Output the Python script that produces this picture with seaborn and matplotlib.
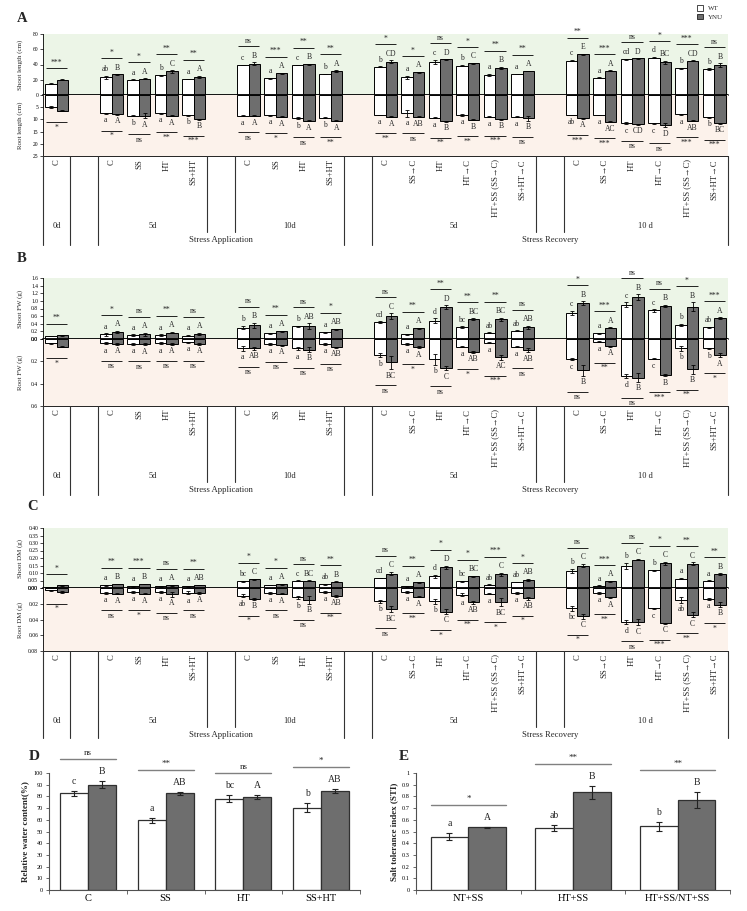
import numpy as np
import pandas as pd
import matplotlib
matplotlib.use("Agg")
import matplotlib.pyplot as plt
import seaborn as sns
from matplotlib.transforms import offset_copy
from matplotlib.patches import Patch
from matplotlib.ticker import FormatStrFormatter, FuncFormatter

sns.set_theme(style="white")
plt.rcParams["font.family"] = ["Liberation Serif", "DejaVu Serif"]

# ---------------- categories ----------------
groups = ["0d", "5d", "10d", "R5d", "R10d"]
group_cats = [
    ["C"],
    ["C", "SS", "HT", "SS+HT"],
    ["C", "SS", "HT", "SS+HT"],
    ["C", "SS→C", "HT", "HT→C", "HT+SS (SS→C)", "SS+HT→C"],
    ["C", "SS→C", "HT", "HT→C", "HT+SS (SS→C)", "SS+HT→C"],
]
day_labels = ["0d", "5d", "10d", "5d", "10 d"]
stage_labels = ["Stress Application", "Stress Recovery"]

# ---------------- Panel A: length (cm) ----------------
A_shoot_wt = [15, 23, 20, 26, 21, 39.5, 22, 39.5, 27.5, 37, 23, 43.7, 38.4, 26.2, 27.5, 45, 22.7, 47, 48.9, 35, 34]
A_shoot_ynu = [20, 27, 21.5, 31, 24, 41, 28.5, 40.5, 31.5, 43.6, 29.7, 46.7, 41.5, 35.8, 31.4, 53.3, 31.9, 48, 42.8, 45, 38.9]
A_shoot_wt_err = [0.5, 2, 0.5, 0.5, 0.5, 0.5, 0.5, 0.5, 0.5, 0.8, 2, 2.5, 1, 1.5, 0.5, 1, 0.5, 0.5, 1, 1, 1]
A_shoot_ynu_err = [0.5, 0.5, 0.5, 1.5, 1.5, 2, 0.5, 0.5, 1, 2, 0.5, 0.5, 0.5, 1.5, 0.5, 0.8, 0.5, 0.5, 2, 0.8, 2.5]
A_root_wt = [5, 7.5, 8.5, 7.5, 8.3, 8.5, 8.3, 9.5, 9.3, 8.2, 7.5, 9.3, 8.2, 8.9, 8.9, 8.2, 8.2, 11.6, 11.6, 7.9, 9.2]
A_root_ynu = [6.5, 7.8, 8.5, 8.5, 10, 8.5, 9, 10.5, 10.5, 8.9, 8.9, 10.7, 10.2, 10, 9.6, 9.6, 10.9, 11.9, 12.3, 10.5, 11.6]
A_root_wt_err = [0.3, 0.2, 0.2, 0.2, 0.2, 0.2, 0.2, 0.5, 0.2, 0.2, 1.4, 0.2, 0.3, 0.3, 0.3, 0.2, 0.2, 0.4, 0.3, 0.3, 0.2]
A_root_ynu_err = [0.2, 0.2, 1, 0.2, 0.2, 0.2, 0.2, 0.3, 0.2, 0.2, 0.2, 0.2, 0.2, 0.2, 1, 0.2, 0.2, 0.2, 1, 0.2, 0.2]
A_shoot_let_wt = ["", "ab", "a", "b", "a", "c", "a", "c", "b", "b", "a", "c", "b", "a", "a", "c", "a", "cd", "d", "b", "b"]
A_shoot_let_ynu = ["", "B", "A", "C", "A", "B", "A", "B", "A", "CD", "A", "D", "C", "B", "A", "E", "A", "D", "BC", "CD", "B"]
A_shoot_sig = ["***", "*", "*", "**", "**", "ns", "***", "**", "**", "*", "*", "ns", "*", "**", "**", "**", "***", "ns", "*", "***", "ns"]
A_root_let_wt = ["", "a", "b", "a", "b", "a", "a", "b", "b", "a", "a", "a", "a", "a", "a", "ab", "a", "c", "c", "a", "b"]
A_root_let_ynu = ["", "A", "A", "A", "B", "A", "A", "A", "A", "A", "AB", "B", "B", "B", "B", "A", "AC", "CD", "D", "AB", "BC"]
A_root_sig = ["*", "*", "ns", "**", "***", "ns", "*", "ns", "**", "**", "ns", "**", "**", "***", "ns", "***", "***", "ns", "ns", "***", "***"]

# ---------------- Panel B: fresh weight (g) ----------------
B_shoot_wt = [0.08, 0.12, 0.10, 0.10, 0.09, 0.30, 0.15, 0.33, 0.18, 0.44, 0.12, 0.48, 0.31, 0.17, 0.22, 0.68, 0.15, 0.90, 0.75, 0.37, 0.31]
B_shoot_ynu = [0.10, 0.18, 0.12, 0.17, 0.13, 0.36, 0.20, 0.33, 0.25, 0.60, 0.28, 0.84, 0.52, 0.52, 0.31, 0.94, 0.30, 1.09, 0.87, 0.85, 0.55]
B_shoot_wt_err = [0.01, 0.03, 0.02, 0.02, 0.02, 0.05, 0.01, 0.02, 0.01, 0.02, 0.02, 0.06, 0.03, 0.01, 0.01, 0.06, 0.01, 0.07, 0.03, 0.03, 0.01]
B_shoot_ynu_err = [0.01, 0.03, 0.05, 0.02, 0.03, 0.06, 0.02, 0.08, 0.02, 0.08, 0.02, 0.04, 0.02, 0.04, 0.04, 0.05, 0.01, 0.08, 0.03, 0.12, 0.02]
B_root_wt = [0.04, 0.035, 0.045, 0.035, 0.03, 0.085, 0.045, 0.085, 0.045, 0.145, 0.045, 0.18, 0.07, 0.035, 0.07, 0.18, 0.025, 0.33, 0.175, 0.085, 0.085]
B_root_ynu = [0.07, 0.045, 0.045, 0.045, 0.045, 0.085, 0.055, 0.095, 0.075, 0.21, 0.075, 0.26, 0.115, 0.165, 0.10, 0.28, 0.065, 0.345, 0.325, 0.27, 0.145]
B_root_wt_err = [0.005, 0.01, 0.005, 0.01, 0.005, 0.02, 0.005, 0.015, 0.005, 0.02, 0.005, 0.05, 0.005, 0.005, 0.005, 0.01, 0.005, 0.02, 0.005, 0.02, 0.005]
B_root_ynu_err = [0.005, 0.005, 0.01, 0.005, 0.005, 0.01, 0.005, 0.02, 0.005, 0.06, 0.01, 0.02, 0.01, 0.02, 0.02, 0.05, 0.005, 0.04, 0.01, 0.04, 0.02]
B_shoot_let_wt = ["", "a", "a", "a", "a", "b", "a", "b", "a", "cd", "a", "d", "bc", "ab", "ab", "c", "a", "c", "c", "b", "ab"]
B_shoot_let_ynu = ["", "A", "A", "A", "A", "B", "A", "AB", "AB", "C", "A", "D", "BC", "BC", "AB", "B", "A", "B", "B", "B", "A"]
B_shoot_sig = ["**", "*", "ns", "**", "ns", "ns", "**", "ns", "*", "ns", "**", "**", "**", "**", "ns", "*", "***", "ns", "ns", "*", "***"]
B_root_let_wt = ["", "a", "a", "a", "a", "a", "a", "a", "a", "b", "a", "b", "a", "a", "a", "c", "a", "d", "c", "b", "b"]
B_root_let_ynu = ["", "A", "A", "A", "A", "AB", "A", "B", "AB", "BC", "A", "C", "AB", "AC", "AB", "B", "A", "B", "B", "B", "A"]
B_root_sig = ["*", "ns", "ns", "ns", "ns", "ns", "ns", "ns", "ns", "ns", "*", "ns", "*", "***", "ns", "ns", "**", "ns", "***", "**", "*"]

# ---------------- Panel C: dry matter (g) ----------------
C_shoot_wt = [0.005, 0.018, 0.013, 0.012, 0.012, 0.045, 0.020, 0.050, 0.025, 0.067, 0.013, 0.078, 0.044, 0.022, 0.040, 0.115, 0.015, 0.150, 0.118, 0.062, 0.049]
C_shoot_ynu = [0.018, 0.027, 0.027, 0.018, 0.020, 0.058, 0.025, 0.050, 0.042, 0.096, 0.038, 0.140, 0.078, 0.093, 0.055, 0.150, 0.044, 0.190, 0.166, 0.162, 0.093]
C_shoot_wt_err = [0.002, 0.003, 0.003, 0.003, 0.003, 0.003, 0.003, 0.003, 0.003, 0.003, 0.003, 0.012, 0.006, 0.003, 0.003, 0.012, 0.003, 0.02, 0.005, 0.005, 0.004]
C_shoot_ynu_err = [0.002, 0.003, 0.003, 0.004, 0.003, 0.004, 0.003, 0.003, 0.003, 0.012, 0.003, 0.01, 0.005, 0.01, 0.005, 0.012, 0.003, 0.005, 0.01, 0.01, 0.005]
C_root_wt = [0.003, 0.006, 0.005, 0.005, 0.006, 0.010, 0.006, 0.012, 0.005, 0.017, 0.005, 0.017, 0.0085, 0.007, 0.0065, 0.026, 0.006, 0.043, 0.026, 0.015, 0.014]
C_root_ynu = [0.005, 0.007, 0.007, 0.008, 0.006, 0.014, 0.007, 0.015, 0.010, 0.027, 0.011, 0.030, 0.018, 0.018, 0.013, 0.036, 0.012, 0.043, 0.045, 0.034, 0.021]
C_root_wt_err = [0.001, 0.001, 0.001, 0.001, 0.002, 0.002, 0.001, 0.002, 0.001, 0.002, 0.001, 0.003, 0.002, 0.001, 0.001, 0.003, 0.001, 0.003, 0.001, 0.004, 0.001]
C_root_ynu_err = [0.001, 0.001, 0.001, 0.003, 0.001, 0.001, 0.001, 0.005, 0.001, 0.004, 0.001, 0.003, 0.002, 0.005, 0.002, 0.003, 0.001, 0.004, 0.0005, 0.003, 0.003]
C_shoot_let_wt = ["", "a", "a", "a", "a", "bc", "a", "c", "ab", "cd", "a", "d", "bc", "ab", "ab", "b", "a", "b", "b", "a", "a"]
C_shoot_let_ynu = ["", "B", "B", "A", "AB", "C", "A", "BC", "B", "C", "A", "D", "BC", "C", "AB", "C", "A", "C", "C", "C", "B"]
C_shoot_sig = ["*", "**", "***", "ns", "**", "*", "*", "ns", "**", "ns", "**", "*", "*", "***", "*", "ns", "***", "ns", "*", "**", "**"]
C_root_let_wt = ["", "a", "a", "a", "a", "ab", "a", "b", "a", "b", "a", "b", "a", "a", "a", "bc", "a", "d", "c", "ab", "a"]
C_root_let_ynu = ["", "A", "A", "A", "A", "B", "A", "B", "AB", "BC", "A", "C", "AB", "BC", "AB", "C", "A", "C", "C", "C", "B"]
C_root_sig = ["*", "ns", "*", "ns", "ns", "*", "ns", "ns", "**", "ns", "**", "*", "**", "*", "*", "*", "**", "ns", "***", "**", "*"]

# ---------------- Panel D: relative water content ----------------
D_cats = ["C", "SS", "HT", "SS+HT"]
D_wt = [82.5, 59.5, 78, 70.5]
D_wt_err = [2.5, 2, 3, 4]
D_ynu = [90, 82.5, 79.5, 84.5]
D_ynu_err = [3, 1.5, 2, 1.5]
D_let_wt = ["c", "a", "bc", "b"]
D_let_ynu = ["B", "AB", "A", "AB"]
D_sig = ["ns", "**", "ns", "*"]

# ---------------- Panel E: salt tolerance index ----------------
E_cats = ["NT+SS", "HT+SS", "HT+SS/NT+SS"]
E_wt = [0.455, 0.53, 0.545]
E_wt_err = [0.03, 0.025, 0.04]
E_ynu = [0.535, 0.835, 0.77]
E_ynu_err = [0.003, 0.055, 0.07]
E_let_wt = ["a", "ab", "b"]
E_let_ynu = ["A", "B", "B"]
E_sig = ["*", "**", "**"]

# ---------------- style ----------------
GRAY = "#6e6e6e"
GREEN = "#ecf5e7"
PEACH = "#fcf2eb"
W, H = 747, 911
fig = plt.figure(figsize=(W / 100, H / 100), dpi=100)

# slot order with gaps between groups
order, keys, cat_names = [], [], []
for gi, (g, cats) in enumerate(zip(groups, group_cats)):
    if gi > 0:
        order.append(f"gap{gi}")
    for c in cats:
        order.append(f"{g}|{c}")
        keys.append(f"{g}|{c}")
        cat_names.append(c)
pos = [order.index(k) for k in keys]
n = len(keys)


def rect(x0, y0, x1, y1):
    return [x0 / W, 1 - y1 / H, (x1 - x0) / W, (y1 - y0) / H]


def off(ax, dy):
    return offset_copy(ax.transData, fig=fig, x=0, y=dy, units="dots")


def bars(ax, wt, ynu, wte, ynue):
    df = pd.DataFrame({"key": keys + keys, "geno": ["WT"] * n + ["YNU"] * n,
                       "val": list(wt) + list(ynu)})
    sns.barplot(data=df, x="key", y="val", hue="geno", order=order, hue_order=["WT", "YNU"],
                palette={"WT": "white", "YNU": GRAY}, saturation=1, width=0.84,
                edgecolor="black", linewidth=0.7, errorbar=None, legend=False, ax=ax)
    p = np.array(pos, float)
    for dx, v, e in ((-0.21, wt, wte), (0.21, ynu, ynue)):
        ax.errorbar(p + dx, v, yerr=e, fmt="none", ecolor="black", elinewidth=0.6,
                    capsize=1.6, capthick=0.6, clip_on=False)


def marks(ax, wt, ynu, wte, ynue, lw_, ly_, sig, sign):
    va = "bottom" if sign > 0 else "top"
    for i, p in enumerate(pos):
        tw = wt[i] + wte[i]
        ty = ynu[i] + ynue[i]
        for x, t, s in ((p - 0.21, tw, lw_[i]), (p + 0.21, ty, ly_[i])):
            if s:
                ax.text(x, t, s, transform=off(ax, sign * 2.5), ha="center", va=va,
                        fontsize=5.5, clip_on=False)
        L = 16 if (lw_[i] or ly_[i]) else 11
        top = max(tw, ty)
        ax.plot([p - 0.39, p + 0.39], [top, top], transform=off(ax, sign * L),
                color="black", lw=0.6, clip_on=False, solid_capstyle="butt")
        ax.text(p, top, sig[i], transform=off(ax, sign * (L + 1.5)), ha="center", va=va,
                fontsize=5.5, clip_on=False)


def style_axis(ax, bottom):
    for s in ["top", "right"]:
        ax.spines[s].set_visible(False)
    ax.spines["bottom"].set_visible(bottom)
    for s in ["left", "bottom"]:
        ax.spines[s].set_color("black")
        ax.spines[s].set_linewidth(0.6)
    ax.set_xlim(-0.5, len(order) - 0.5)
    ax.set_xticks([])
    ax.set_xlabel("")
    ax.tick_params(axis="y", which="both", left=True, length=2, width=0.5, pad=1.5,
                   labelsize=4, colors="black")


def table(y0, y1, inner_end):
    axT = fig.add_axes(rect(43, y0, 728, y1))
    axT.set_xlim(-0.5, len(order) - 0.5)
    axT.set_ylim(y1, y0)
    axT.axis("off")
    for xb in [-0.5, 0.5, 1.5, 10.5, 11.5, 24.5]:
        axT.plot([xb, xb], [y0, y1], color="#333333", lw=0.8, clip_on=False)
    for xb in [5.5, 6.5, 17.5, 18.5]:
        axT.plot([xb, xb], [y0, inner_end], color="#333333", lw=0.8, clip_on=False)
    for p, c in zip(pos, cat_names):
        axT.text(p, y0 + 3, c, rotation=90, ha="center", va="top", fontsize=6.2)
    for xd, d in zip([0, 3.5, 8.5, 14.5, 21.5], day_labels):
        axT.text(xd, y0 + 70, d, ha="center", va="center", fontsize=6)
    for xs, s in zip([6, 18], stage_labels):
        axT.text(xs, y0 + 84, s, ha="center", va="center", fontsize=6.2)


def panel(letter, lx, ly, ytop, yzero, ybot, ytab,
          sw, sy, swe, sye, slw, sly, ssig,
          rw, ry, rwe, rye, rlw, rly, rsig,
          smax, sticks, rmax, rticks, fmt, slabel, rlabel):
    axS = fig.add_axes(rect(43, ytop, 728, yzero))
    axR = fig.add_axes(rect(43, yzero, 728, ybot))
    axS.set_facecolor(GREEN)
    axR.set_facecolor(PEACH)
    bars(axS, sw, sy, swe, sye)
    bars(axR, rw, ry, rwe, rye)
    style_axis(axS, False)
    style_axis(axR, True)
    axS.set_ylim(0, smax)
    axR.set_ylim(rmax, 0)
    axS.set_yticks(sticks)
    axR.set_yticks(rticks)
    if fmt:
        axS.yaxis.set_major_formatter(FormatStrFormatter(fmt))
        axR.yaxis.set_major_formatter(FormatStrFormatter(fmt))
    axS.set_ylabel(slabel, fontsize=5, labelpad=0)
    axR.set_ylabel(rlabel, fontsize=5, labelpad=0)
    axS.yaxis.set_label_coords(-0.029, 0.5)
    axR.yaxis.set_label_coords(-0.029, 0.5)
    axS.axhline(0, color="black", lw=1.3, clip_on=False, zorder=5)
    marks(axS, sw, sy, swe, sye, slw, sly, ssig, 1)
    marks(axR, rw, ry, rwe, rye, rlw, rly, rsig, -1)
    table(ybot, ytab, ybot + 76)
    fig.text(lx / W, 1 - ly / H, letter, fontsize=10.5, fontweight="bold", ha="center", va="center")


panel("A", 22, 18, 34, 95, 156, 245,
      A_shoot_wt, A_shoot_ynu, A_shoot_wt_err, A_shoot_ynu_err, A_shoot_let_wt, A_shoot_let_ynu, A_shoot_sig,
      A_root_wt, A_root_ynu, A_root_wt_err, A_root_ynu_err, A_root_let_wt, A_root_let_ynu, A_root_sig,
      80, [0, 20, 40, 60, 80], 25, [5, 10, 15, 20, 25], None,
      "Shoot length (cm)", "Root length (cm)")
panel("B", 22, 259, 278, 339, 406, 495,
      B_shoot_wt, B_shoot_ynu, B_shoot_wt_err, B_shoot_ynu_err, B_shoot_let_wt, B_shoot_let_ynu, B_shoot_sig,
      B_root_wt, B_root_ynu, B_root_wt_err, B_root_ynu_err, B_root_let_wt, B_root_let_ynu, B_root_sig,
      1.6, np.arange(0, 1.61, 0.2), 0.6, [0.0, 0.2, 0.4, 0.6], "%.1f",
      "Shoot FW (g)", "Root FW (g)")
panel("C", 33, 507, 528, 588, 651, 738,
      C_shoot_wt, C_shoot_ynu, C_shoot_wt_err, C_shoot_ynu_err, C_shoot_let_wt, C_shoot_let_ynu, C_shoot_sig,
      C_root_wt, C_root_ynu, C_root_wt_err, C_root_ynu_err, C_root_let_wt, C_root_let_ynu, C_root_sig,
      0.40, np.arange(0, 0.401, 0.05), 0.08, [0.0, 0.02, 0.04, 0.06, 0.08], "%.2f",
      "Shoot DM (g)", "Root DM (g)")

# legend
fig.legend(handles=[Patch(facecolor="white", edgecolor="black", lw=0.5),
                    Patch(facecolor=GRAY, edgecolor="black", lw=0.5)],
           labels=["WT", "YNU"], loc="upper left", bbox_to_anchor=(697 / W, 1 - 5 / H),
           frameon=False, fontsize=5, handlelength=0.9, handleheight=0.9,
           handletextpad=0.7, labelspacing=0.35, borderpad=0, borderaxespad=0)


def simple_panel(letter, lx, ly, box, cats, wt, wte, ynu, ynue, lw_, ly_, sig,
                 ymax, yticks, ylabel, yfmt):
    ax = fig.add_axes(rect(*box))
    k = len(cats)
    df = pd.DataFrame({"cat": cats + cats, "geno": ["WT"] * k + ["YNU"] * k,
                       "val": list(wt) + list(ynu)})
    sns.barplot(data=df, x="cat", y="val", hue="geno", order=cats, hue_order=["WT", "YNU"],
                palette={"WT": "white", "YNU": GRAY}, saturation=1, width=0.72,
                edgecolor="#303030", linewidth=0.9, errorbar=None, legend=False, ax=ax)
    p = np.arange(k, dtype=float)
    for dx, v, e in ((-0.18, wt, wte), (0.18, ynu, ynue)):
        ax.errorbar(p + dx, v, yerr=e, fmt="none", ecolor="#222222", elinewidth=0.8,
                    capsize=2.5, capthick=0.8, clip_on=False)
    ax.set_xlim(-0.5, k - 0.5)
    ax.set_ylim(0, ymax)
    ax.set_yticks(yticks)
    ax.yaxis.set_major_formatter(yfmt)
    for s in ["top", "right"]:
        ax.spines[s].set_visible(False)
    for s in ["left", "bottom"]:
        ax.spines[s].set_color("#505050")
        ax.spines[s].set_linewidth(0.8)
    ax.set_xticks(p)
    ax.set_xticklabels(cats)
    ax.set_xticks(np.arange(-0.5, k, 1.0), minor=True)
    ax.tick_params(axis="x", which="major", length=0, labelsize=7.5, pad=3, colors="black")
    ax.tick_params(axis="x", which="minor", bottom=True, length=3, width=0.6, color="#505050")
    ax.tick_params(axis="y", which="major", left=True, length=2.5, width=0.6, labelsize=4.5,
                   pad=2, color="#505050", labelcolor="black")
    ax.set_xlabel("")
    ax.set_ylabel(ylabel, fontsize=6.5, fontweight="bold", labelpad=3)
    for i in range(k):
        tw = wt[i] + wte[i]
        ty = ynu[i] + ynue[i]
        ax.text(i - 0.18, tw, lw_[i], transform=off(ax, 5), ha="center", va="bottom",
                fontsize=7, clip_on=False)
        ax.text(i + 0.18, ty, ly_[i], transform=off(ax, 5), ha="center", va="bottom",
                fontsize=7, clip_on=False)
        top = max(tw, ty)
        ax.plot([i - 0.36, i + 0.36], [top, top], transform=off(ax, 22), color="#808080",
                lw=1.0, clip_on=False)
        ax.text(i, top, sig[i], transform=off(ax, 24), ha="center", va="bottom",
                fontsize=6.5, clip_on=False)
    fig.text(lx / W, 1 - ly / H, letter, fontsize=11, fontweight="bold", ha="center", va="center")


simple_panel("D", 34, 756, (49, 773, 360, 890), D_cats, D_wt, D_wt_err, D_ynu, D_ynu_err,
             D_let_wt, D_let_ynu, D_sig, 100, np.arange(0, 101, 10),
             "Relative water content(%)", FuncFormatter(lambda v, _: f"{v:g}"))
simple_panel("E", 404, 756, (416, 773, 730, 890), E_cats, E_wt, E_wt_err, E_ynu, E_ynu_err,
             E_let_wt, E_let_ynu, E_sig, 1.0, np.round(np.arange(0, 1.01, 0.1), 1),
             "Salt tolerance index (STI)", FuncFormatter(lambda v, _: f"{v:g}"))

fig.savefig("out.png", dpi=100)
